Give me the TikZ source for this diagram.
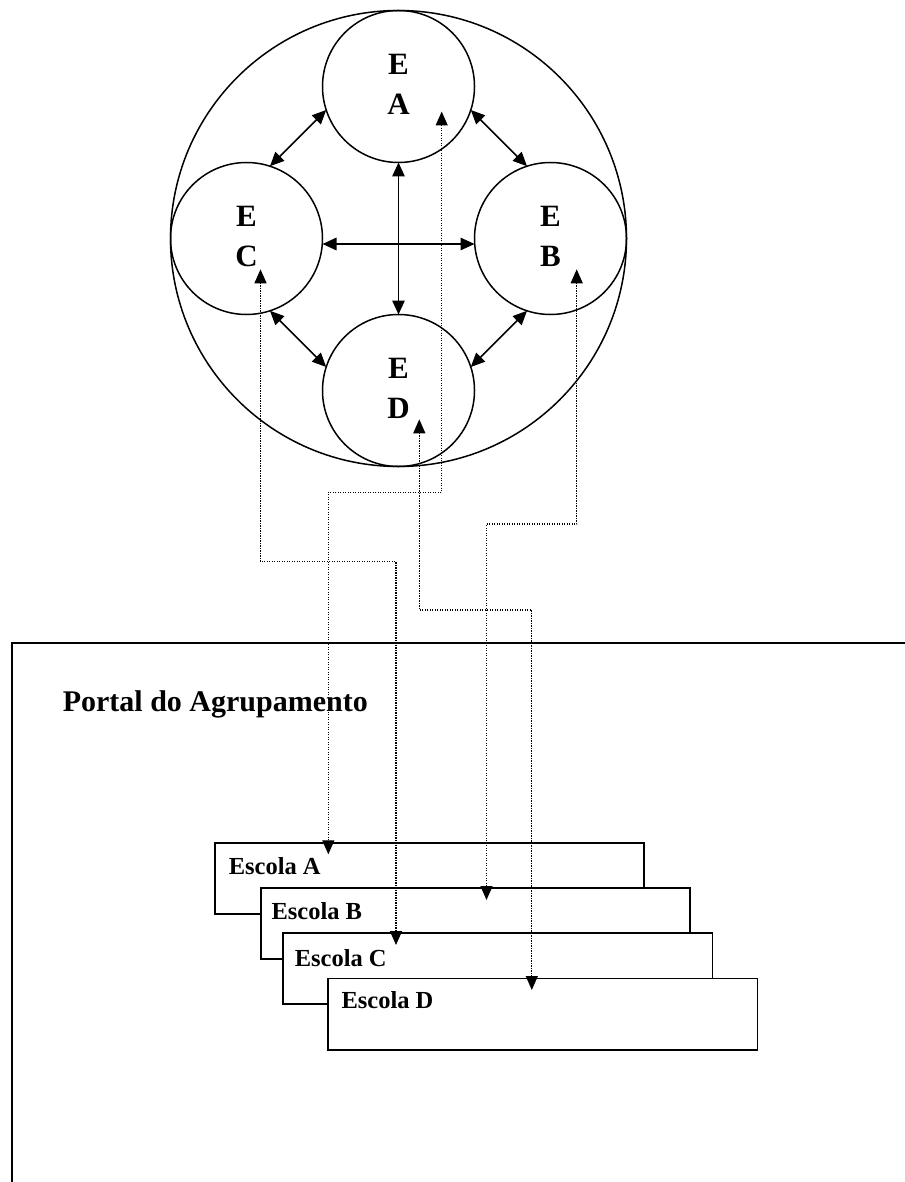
\documentclass[tikz,border=0pt]{standalone}
\usepackage{fontspec}
\setmainfont{Liberation Serif}
\usetikzlibrary{arrows.meta}
\begin{document}
\begin{tikzpicture}[x=1pt,y=-1pt,
  >={Triangle[length=14pt,width=12.5pt]},
  every node/.style={inner sep=0pt, outer sep=0pt},
  bigring/.style={circle, draw, line width=1.5pt, minimum size=456pt},
  schoolring/.style={circle, draw, line width=1.5pt, minimum size=152pt,
    align=center, font=\fontsize{31}{40}\selectfont\bfseries},
  link/.style={line width=1.5pt, <->},
  dotlink/.style={line width=1.3pt, dash pattern=on 1.2pt off 1.3pt,
    arrows={Triangle[length=14pt,width=12pt]-Triangle[length=14pt,width=12pt]}},
  schoolbox/.style={draw, fill=white, line width=1.7pt, minimum width=429.3pt,
    minimum height=71.3pt, anchor=north west},
  boxlabel/.style={font=\fontsize{24.5}{29}\selectfont\bfseries, anchor=base west},
  portaltitle/.style={font=\fontsize{30}{36}\selectfont\bfseries, anchor=base west},
  frameline/.style={line width=2pt}
]
\useasboundingbox (0,0) rectangle (904,1182);

% network of schools
\node[bigring] (net) at (398.5,238.5) {};
\node[schoolring] (ea) at (398.5,86.5) {E\\A\rule[-4pt]{0pt}{4pt}};
\node[schoolring] (eb) at (550.5,238.5) {E\\B\rule[-4pt]{0pt}{4pt}};
\node[schoolring] (ec) at (246.5,238.5) {E\\C\rule[-4pt]{0pt}{4pt}};
\node[schoolring] (ed) at (398.5,390.5) {E\\D\rule[-4pt]{0pt}{4pt}};

\draw[link] (ea.south) -- (ed.north);
\draw[link] ([yshift=-5.5pt]ec.east) -- ([yshift=-5.5pt]eb.west);
\draw[link] (ea.198) -- (ec.72);
\draw[link] (ea.342) -- (eb.108);
\draw[link] (ec.288) -- (ed.162);
\draw[link] (eb.252) -- (ed.18);

% portal frame
\draw[frameline] (12.3,1190) -- (12.3,643.3) -- (910,643.3);
\node[portaltitle] (portal) at (62.8,711) {Portal do Agrupamento};

% school pages
\node[schoolbox] (sa) at (215,842.7) {};
\node[boxlabel] (la) at ([xshift=13.8pt,yshift=-31.3pt]sa.north west) {Escola A};
\node[schoolbox] (sb) at (260.7,887.7) {};
\node[boxlabel] (lb) at ([xshift=10.8pt,yshift=-31.6pt]sb.north west) {Escola B};
\node[schoolbox] (sc) at (283.3,933) {};
\node[boxlabel] (lc) at ([xshift=11.5pt,yshift=-33pt]sc.north west) {Escola C};
\node[schoolbox] (sd) at (328.3,978.5) {};
\node[boxlabel] (ld) at ([xshift=13.2pt,yshift=-29.8pt]sd.north west) {Escola D};

% connector end points
\coordinate (pa) at (441.7,111.5);
\coordinate (pb) at (576.7,269.3);
\coordinate (pc) at (260.5,269.3);
\coordinate (pd) at (419.3,419.3);
\coordinate (qa) at (328.3,854.3);
\coordinate (qb) at (486.5,900);
\coordinate (qc) at (396,945);
\coordinate (qd) at (531.8,990);
\coordinate (ka) at (0,492.3);
\coordinate (kb) at (0,524);
\coordinate (kc) at (0,561.7);
\coordinate (kd) at (0,610);

\draw[dotlink] (pa) |- (qa |- ka) -- (qa);
\draw[dotlink] (pb) |- (qb |- kb) -- (qb);
\draw[dotlink] (pc) |- (qc |- kc) -- (qc);
\draw[dotlink] (pd) |- (qd |- kd) -- (qd);
\end{tikzpicture}
\end{document}
